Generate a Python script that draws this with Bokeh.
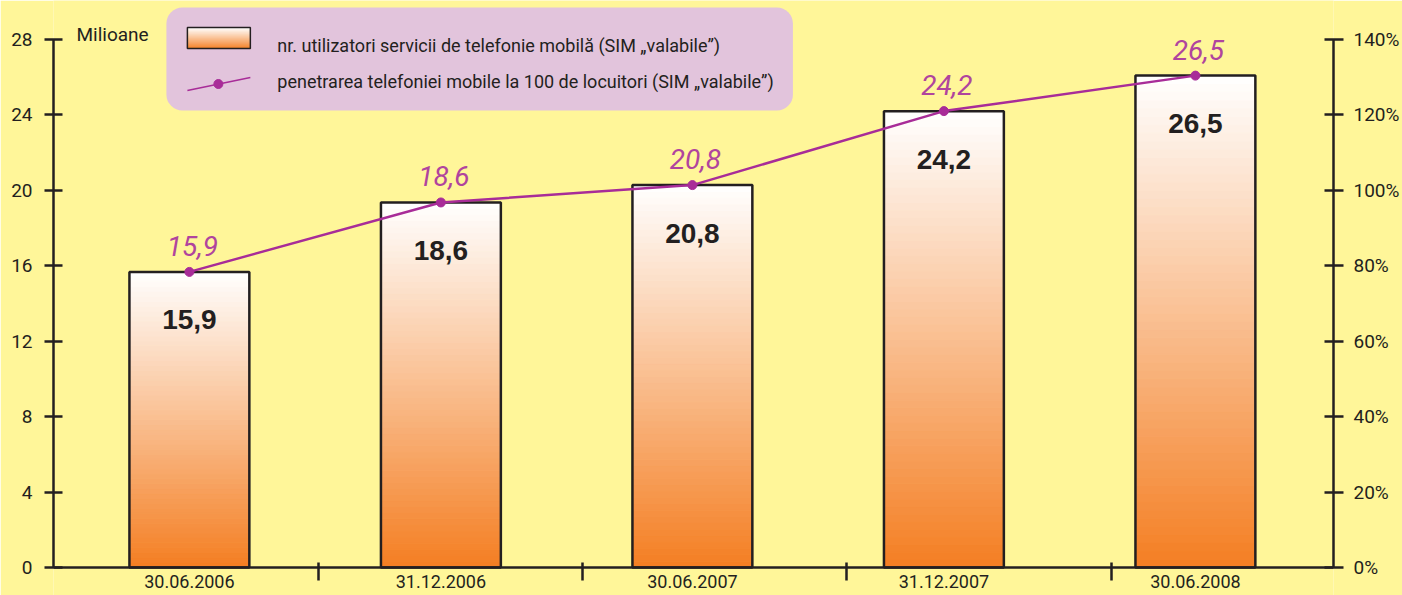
from bokeh.plotting import figure
from bokeh.models import Range1d, LinearAxis, FixedTicker, PrintfTickFormatter, BoxAnnotation
from bokeh.core.properties import value
from bokeh.embed import file_html
from bokeh.resources import INLINE

# ---------------- data ----------------
dates = ["30.06.2006", "31.12.2006", "30.06.2007", "31.12.2007", "30.06.2008"]
subscribers = [15.66, 19.34, 20.26, 24.17, 26.07]      # millions (bar heights as drawn)
penetration = [78.3, 96.7, 101.3, 120.9, 130.3]        # % (right axis, as drawn)
bar_labels = ["15,9", "18,6", "20,8", "24,2", "26,5"]
line_labels = ["15,9", "18,6", "20,8", "24,2", "26,5"]
left_ticks = [0, 4, 8, 12, 16, 20, 24, 28]
right_ticks = [0, 20, 40, 60, 80, 100, 120, 140]
separators = [0.5125, 1.565, 2.614, 3.667]
legend_labels = ["nr. utilizatori servicii de telefonie mobilă (SIM \u201evalabile\u201d)",
                 "penetrarea telefoniei mobile la 100 de locuitori (SIM \u201evalabile\u201d)"]
unit_label = "Milioane"

# ---------------- layout / style ----------------
W, H = 1402, 595
FRAME_L, FRAME_R = 53, 1334
ZERO_PX = 567.0
UNIT_PX = 18.875
SLOT0_PX, SLOT_PX = 189.0, 251.7
PCT_PER_UNIT = 5.0
BAR_W = 120 / SLOT_PX

BG = "#FFF699"
LEG_BG = "#E2C4DC"
DARK = "#231F20"
MAG = "#A82C98"
MAG_TXT = "#B0449E"
ORANGE = (244, 126, 34)
FONT = "Roboto"


def xd(px):
    return (px - SLOT0_PX) / SLOT_PX


def yd(py):
    return (ZERO_PX - py) / UNIT_PX


def grad(frac):  # frac 0 = top (white), 1 = bottom (orange)
    r = round(255 + (ORANGE[0] - 255) * frac)
    g = round(255 + (ORANGE[1] - 255) * frac)
    b = round(255 + (ORANGE[2] - 255) * frac)
    return "#%02x%02x%02x" % (r, g, b)


x_start, x_end = xd(FRAME_L), xd(FRAME_R)
y_start, y_end = yd(H), yd(0)

p = figure(width=W, height=H, x_range=Range1d(x_start, x_end), y_range=Range1d(y_start, y_end),
           output_backend="svg", toolbar_location=None,
           x_axis_location=None, y_axis_location=None,
           min_border_left=FRAME_L, min_border_right=W - FRAME_R,
           min_border_top=0, min_border_bottom=0,
           background_fill_color=BG, border_fill_color=BG, outline_line_color=None)
p.xgrid.visible = False
p.ygrid.visible = False
p.extra_y_ranges = {"pct": Range1d(y_start * PCT_PER_UNIT, y_end * PCT_PER_UNIT)}

# ---------------- axes ----------------
left = LinearAxis(ticker=FixedTicker(ticks=left_ticks, minor_ticks=[]), bounds=(0, 28))
right = LinearAxis(y_range_name="pct", ticker=FixedTicker(ticks=right_ticks, minor_ticks=[]),
                   bounds=(0, 140), formatter=PrintfTickFormatter(format="%d%%"))
for ax, tin, tout, so in ((left, 9, 9, 12), (right, 9, 10, 10)):
    ax.axis_line_color = DARK
    ax.axis_line_width = 2.5
    ax.major_tick_line_color = DARK
    ax.major_tick_line_width = 2.5
    ax.major_tick_in = tin
    ax.major_tick_out = tout
    ax.minor_tick_line_color = None
    ax.major_label_standoff = so
    ax.major_label_text_font = FONT
    ax.major_label_text_font_size = "19px"
    ax.major_label_text_color = DARK
p.add_layout(left, "left")
p.add_layout(right, "right")

bottom = LinearAxis(ticker=FixedTicker(ticks=list(range(len(dates))), minor_ticks=separators),
                    major_label_overrides={i: d for i, d in enumerate(dates)},
                    fixed_location=0)
bottom.axis_line_color = DARK
bottom.axis_line_width = 2.5
bottom.major_tick_line_color = None
bottom.major_tick_in = 0
bottom.major_tick_out = 0
bottom.minor_tick_line_color = DARK
bottom.minor_tick_line_width = 2.5
bottom.minor_tick_in = 5
bottom.minor_tick_out = 13
bottom.major_label_standoff = -6
bottom.major_label_text_font = FONT
bottom.major_label_text_font_size = "18px"
bottom.major_label_text_color = DARK
p.add_layout(bottom, "below")

# ---------------- legend box ----------------
p.add_layout(BoxAnnotation(left=xd(166), right=xd(793), top=yd(7), bottom=yd(110),
                           fill_color=LEG_BG, fill_alpha=1.0, line_color=None,
                           border_radius=16, level="underlay"))

# ---------------- bars (gradient slices) ----------------
N = 60
L, R, B, T, C = [], [], [], [], []
for i, h in enumerate(subscribers):
    for k in range(N):
        L.append(i - BAR_W / 2)
        R.append(i + BAR_W / 2)
        B.append(h * k / N)
        T.append(h * (k + 1) / N)
        C.append(grad(1 - (k + 0.5) / N))
# legend swatch gradient
sw_l, sw_r, sw_b, sw_t = xd(187), xd(250), yd(48), yd(27)
NS = 20
for k in range(NS):
    L.append(sw_l)
    R.append(sw_r)
    B.append(sw_b + (sw_t - sw_b) * k / NS)
    T.append(sw_b + (sw_t - sw_b) * (k + 1) / NS)
    C.append(grad(1 - (k + 0.5) / NS))
p.quad(left=L, right=R, bottom=B, top=T, fill_color=C, line_color=C, line_width=1)

idx = list(range(len(subscribers)))
p.quad(left=[i - BAR_W / 2 for i in idx], right=[i + BAR_W / 2 for i in idx],
       bottom=[0] * len(idx), top=subscribers, fill_color=None, line_color=DARK, line_width=2.5)
p.quad(left=[sw_l], right=[sw_r], bottom=[sw_b], top=[sw_t], fill_color=None,
       line_color=DARK, line_width=1.5)

# ---------------- penetration line ----------------
p.line(idx, penetration, y_range_name="pct", line_color=MAG, line_width=2.5)
p.scatter(idx, penetration, y_range_name="pct", size=9, fill_color=MAG, line_color=MAG)
p.line([xd(187), xd(250)], [yd(90), yd(77)], line_color=MAG, line_width=1.5)
p.scatter([xd(218)], [yd(83.5)], size=9, fill_color=MAG, line_color=MAG)

# ---------------- texts ----------------
p.text(x=idx, y=[h - 48 / UNIT_PX for h in subscribers], text=bar_labels,
       text_font=value("Liberation Sans"), text_font_style="bold", text_font_size="28px",
       text_color=DARK, text_align="center", text_baseline="middle")
p.text(x=[i + 3 / SLOT_PX for i in idx], y=[v / PCT_PER_UNIT + 26 / UNIT_PX for v in penetration],
       text=line_labels, text_font=value("Roboto"), text_font_style="italic",
       text_font_size="28px", text_color=MAG_TXT, text_align="center", text_baseline="middle")
p.text(x=[xd(277), xd(277)], y=[yd(45), yd(81)], text=legend_labels,
       text_font=value(FONT), text_font_size="18px", text_color=DARK,
       text_align="left", text_baseline="middle")
p.text(x=[xd(76)], y=[yd(34)], text=[unit_label],
       text_font=value(FONT), text_font_size="19px", text_color=DARK,
       text_align="left", text_baseline="middle")

open("out.html", "w").write(file_html(p, INLINE))
